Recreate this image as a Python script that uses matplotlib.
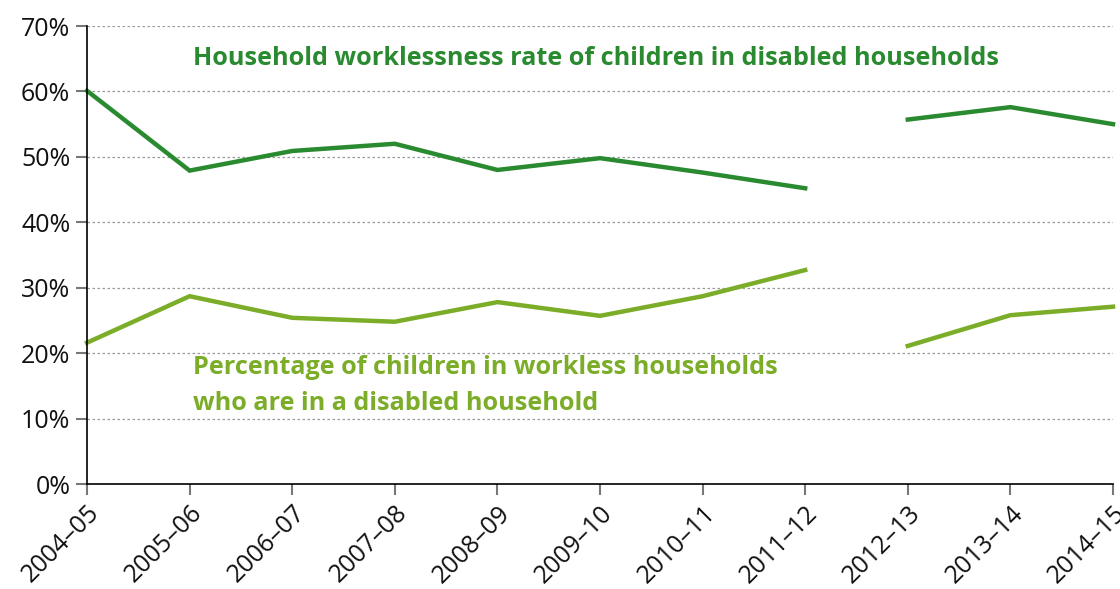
import matplotlib
matplotlib.use("Agg")
import matplotlib.pyplot as plt
import numpy as np

plt.rcParams['font.family'] = ['Open Sans', 'DejaVu Sans']

years = ["2004–05", "2005–06", "2006–07", "2007–08", "2008–09", "2009–10",
         "2010–11", "2011–12", "2012–13", "2013–14", "2014–15"]
workless_rate = [60.1, 47.9, 50.9, 52.0, 48.0, 49.8, 47.6, 45.2, np.nan, 55.7, 57.6, 55.0]
disabled_share = [21.6, 28.7, 25.4, 24.8, 27.8, 25.7, 28.7, 32.7, np.nan, 21.1, 25.8, 27.1]
# positions of years; gap inserted between 2011-12 and 2012-13
x_pos = [0, 1, 2, 3, 4, 5, 6, 7, 7.5, 8, 9, 10]

dark = "#2A8A30"
light = "#7BAD28"

fig = plt.figure(figsize=(11.2, 5.89), dpi=100)
ax = fig.add_axes([87/1120, 1-484/589, (1113-87)/1120, (484-26)/589])

ax.plot(x_pos, workless_rate, color=dark, lw=3.2, solid_joinstyle='miter', clip_on=False)
ax.plot(x_pos, disabled_share, color=light, lw=3.2, solid_joinstyle='miter', clip_on=False)

ax.set_xlim(0, 10)
ax.set_ylim(0, 70)
ax.set_yticks(range(0, 71, 10))
ax.set_yticklabels([f"{v}%" for v in range(0, 71, 10)], fontsize=18)
ax.set_xticks(range(len(years)))
ax.set_xticklabels(years, rotation=45, ha='right', rotation_mode='anchor', fontsize=18)

for v in range(10, 71, 10):
    ax.axhline(v, color="#999999", lw=0.9, ls=(0, (2, 2)), zorder=0)

for s in ['top', 'right']:
    ax.spines[s].set_visible(False)
ax.spines['left'].set_color('black')
ax.spines['bottom'].set_color('black')
ax.spines['left'].set_linewidth(1.2)
ax.spines['bottom'].set_linewidth(1.2)
ax.tick_params(axis='both', color='#777777', length=8, width=1.5, direction='out', colors='#111111')
ax.tick_params(axis='both', color='#777777')
ax.tick_params(axis='x', pad=4)
ax.tick_params(axis='y', pad=4)

ax.text(1.03, 65.0, "Household worklessness rate of children in disabled households",
        color=dark, fontsize=18.2, fontweight='bold', va='center', ha='left')
ax.text(1.03, 15.0, "Percentage of children in workless households\nwho are in a disabled household",
        color=light, fontsize=18.2, fontweight='bold', va='center', ha='left', linespacing=1.57)

fig.savefig("out.png", dpi=100)
